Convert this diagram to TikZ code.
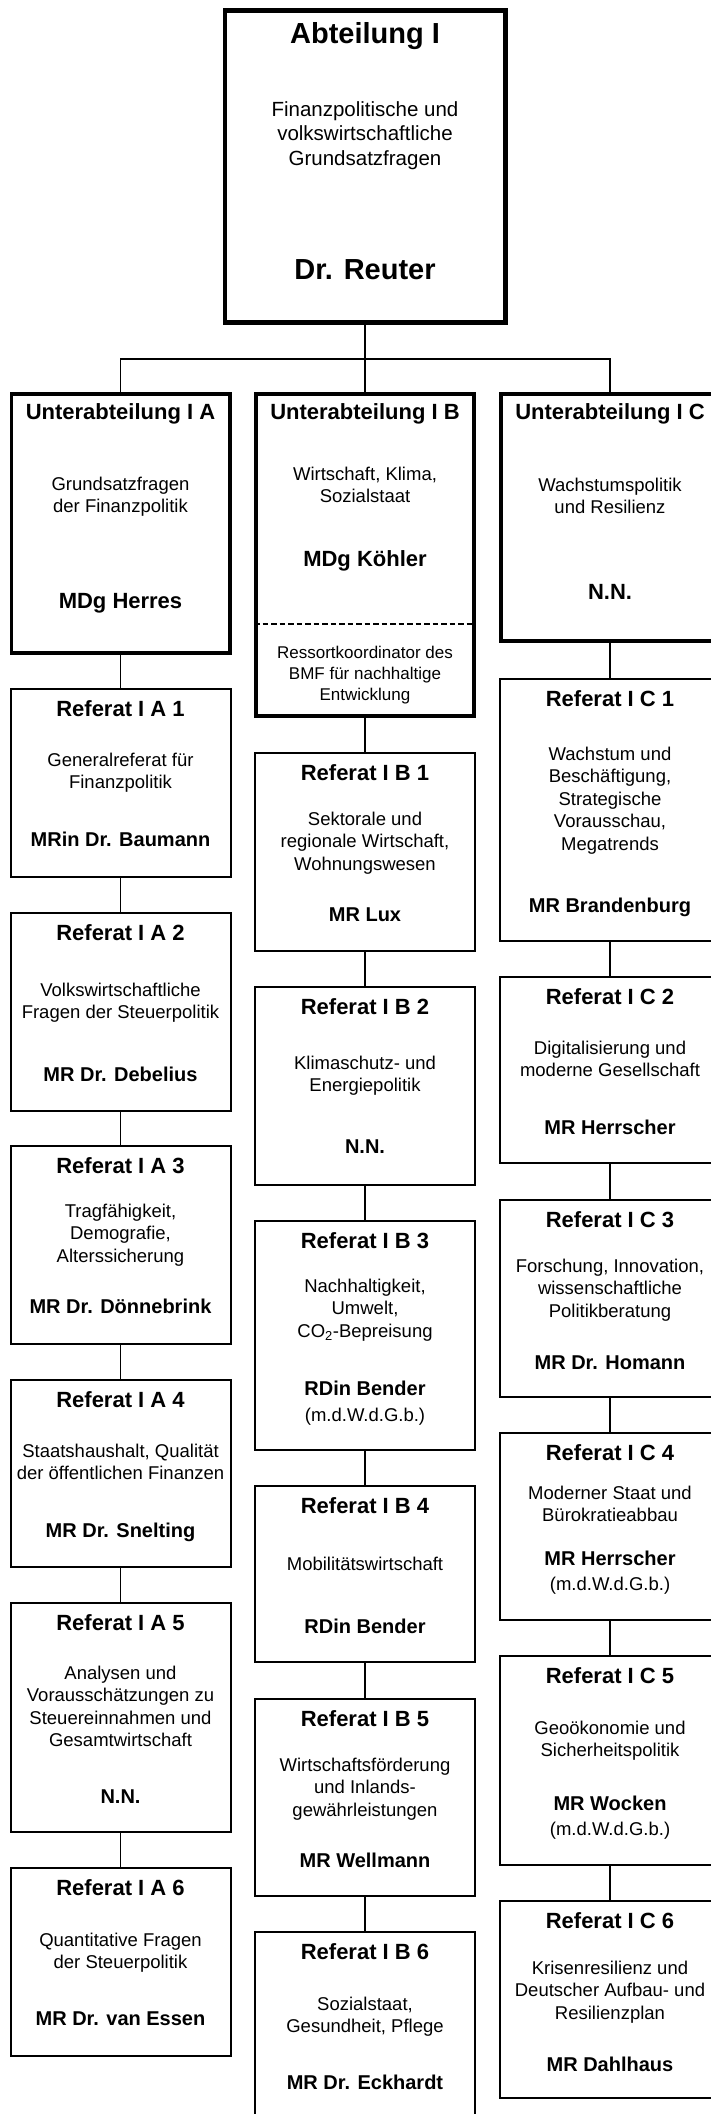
\documentclass[tikz,border=0pt]{standalone}
\usepackage{fontspec}
\setmainfont{Liberation Sans}
\usetikzlibrary{positioning}

\newcommand{\fBig}{\fontsize{29}{34}\selectfont\bfseries}
\newcommand{\fSub}{\fontsize{22}{26}\selectfont\bfseries}
\newcommand{\fName}{\fontsize{20}{24}\selectfont\bfseries}

\tikzset{
  abtbox/.style={draw, line width=4.7pt, minimum width=280.3pt, inner sep=0pt},
  subbox/.style={draw, line width=3.7pt, minimum width=218.3pt, inner sep=0pt},
  refbox/.style={draw, line width=2pt, minimum width=220pt, inner sep=0pt},
  txt/.style={align=center, inner sep=0pt, font=\fontsize{18.5}{22.5}\selectfont},
  abttxt/.style={txt, font=\fontsize{20.5}{24.5}\selectfont},
  restxt/.style={txt, font=\fontsize{17}{21}\selectfont},
  conn/.style={line width=1.5pt},
  divider/.style={line width=2pt, dash pattern=on 5.5pt off 3pt}
}

\begin{document}
\begin{tikzpicture}[x=1pt, y=-1pt]
  \useasboundingbox (0,0) rectangle (711,2114);
  \clip (0,0) rectangle (711,2114);

  %---------------- Abteilung ----------------
  \node[abtbox, minimum height=312.3pt] (abt) at (365,166.5) {};
  \node[abttxt, below=14pt of abt.north] (abt-t)
    {{\fBig Abteilung I}\\[48.5pt]Finanzpolitische und\\volkswirtschaftliche\\Grundsatzfragen\\[90pt]{\fBig Dr. Reuter}};

  %---------------- Unterabteilungen ----------------
  \node[subbox, minimum height=259.3pt] (uaA) at (120.5,523.5) {};
  \node[txt, below=11pt of uaA.north] (uaA-t)
    {{\fSub Unterabteilung I A}\\[48.5pt]Grundsatzfragen\\der Finanzpolitik\\[73.5pt]{\fSub MDg Herres}};

  \node[subbox, minimum height=322.3pt] (uaB) at (365,555) {};
  \node[txt, below=11pt of uaB.north] (uaB-t)
    {{\fSub Unterabteilung I B}\\[38.5pt]Wirtschaft, Klima,\\Sozialstaat\\[41.5pt]{\fSub MDg Köhler}};
  \draw[divider] (uaB.west |- 0,624) -- (uaB.east |- 0,624);
  \node[restxt, below=254pt of uaB.north] (uaB-r)
    {Ressortkoordinator des\\BMF für nachhaltige\\Entwicklung};

  \node[subbox, minimum height=247.3pt] (uaC) at (610,517.5) {};
  \node[txt, below=11pt of uaC.north] (uaC-t)
    {{\fSub Unterabteilung I C}\\[49.5pt]Wachstumspolitik\\und Resilienz\\[63.5pt]{\fSub N.N.}};

  \coordinate (hub) at (365,359);
  \draw[conn] (abt) -- (uaB);
  \draw[conn] (uaA) |- (hub) -| (uaC);

  %---------------- Referate I A ----------------
  \node[refbox, minimum height=188pt] (refA1) at (120.5,783) {};
  \node[txt, below=12pt of refA1.north] (refA1-t)
    {{\fSub Referat I A 1}\\[27.5pt]Generalreferat für\\Finanzpolitik\\[35.5pt]{\fName MRin Dr. Baumann}};

  \node[refbox, minimum height=198pt] (refA2) at (120.5,1012) {};
  \node[txt, below=12pt of refA2.north] (refA2-t)
    {{\fSub Referat I A 2}\\[33.5pt]Volkswirtschaftliche\\Fragen der Steuerpolitik\\[40.5pt]{\fName MR Dr. Debelius}};

  \node[refbox, minimum height=198pt] (refA3) at (120.5,1245) {};
  \node[txt, below=12pt of refA3.north] (refA3-t)
    {{\fSub Referat I A 3}\\[21.5pt]Tragfähigkeit,\\Demografie,\\Alterssicherung\\[28.5pt]{\fName MR Dr. Dönnebrink}};

  \node[refbox, minimum height=187pt] (refA4) at (120.5,1473.5) {};
  \node[txt, below=12pt of refA4.north] (refA4-t)
    {{\fSub Referat I A 4}\\[27.5pt]Staatshaushalt, Qualität\\der öffentlichen Finanzen\\[35.5pt]{\fName MR Dr. Snelting}};

  \node[refbox, minimum height=229pt] (refA5) at (120.5,1717.5) {};
  \node[txt, below=12pt of refA5.north] (refA5-t)
    {{\fSub Referat I A 5}\\[26.5pt]Analysen und\\Vorausschätzungen zu\\Steuereinnahmen und\\Gesamtwirtschaft\\[34.5pt]{\fName N.N.}};

  \node[refbox, minimum height=188pt] (refA6) at (120.5,1962) {};
  \node[txt, below=12pt of refA6.north] (refA6-t)
    {{\fSub Referat I A 6}\\[28.5pt]Quantitative Fragen\\der Steuerpolitik\\[34.5pt]{\fName MR Dr. van Essen}};

  \draw[conn] (uaA) -- (refA1) -- (refA2) -- (refA3) -- (refA4) -- (refA5) -- (refA6);

  %---------------- Referate I B ----------------
  \node[refbox, minimum height=198pt] (refB1) at (365,852) {};
  \node[txt, below=12pt of refB1.north] (refB1-t)
    {{\fSub Referat I B 1}\\[22.5pt]Sektorale und\\regionale Wirtschaft,\\Wohnungswesen\\[28.5pt]{\fName MR Lux}};

  \node[refbox, minimum height=198pt] (refB2) at (365,1086) {};
  \node[txt, below=12pt of refB2.north] (refB2-t)
    {{\fSub Referat I B 2}\\[32.5pt]Klimaschutz- und\\Energiepolitik\\[39.5pt]{\fName N.N.}};

  \node[refbox, minimum height=229pt] (refB3) at (365,1335.5) {};
  \node[txt, below=12pt of refB3.north] (refB3-t)
    {{\fSub Referat I B 3}\\[21.5pt]Nachhaltigkeit,\\Umwelt,\\CO\textsubscript{2}-Bepreisung\\[35.5pt]{\fName RDin Bender}\\[3.5pt](m.d.W.d.G.b.)};

  \node[refbox, minimum height=176pt] (refB4) at (365,1574) {};
  \node[txt, below=12pt of refB4.north] (refB4-t)
    {{\fSub Referat I B 4}\\[34.5pt]Mobilitätswirtschaft\\[40.5pt]{\fName RDin Bender}};

  \node[refbox, minimum height=197pt] (refB5) at (365,1797.5) {};
  \node[txt, below=12pt of refB5.north] (refB5-t)
    {{\fSub Referat I B 5}\\[22.5pt]Wirtschaftsförderung\\und Inlands-\\gewährleistungen\\[28.5pt]{\fName MR Wellmann}};

  \node[refbox, minimum height=227pt] (refB6) at (365,2045.5) {};
  \node[txt, below=12pt of refB6.north] (refB6-t)
    {{\fSub Referat I B 6}\\[28.5pt]Sozialstaat,\\Gesundheit, Pflege\\[34.5pt]{\fName MR Dr. Eckhardt}};

  \draw[conn] (uaB) -- (refB1) -- (refB2) -- (refB3) -- (refB4) -- (refB5) -- (refB6);

  %---------------- Referate I C ----------------
  \node[refbox, minimum height=262pt] (refC1) at (610,810) {};
  \node[txt, below=12pt of refC1.north] (refC1-t)
    {{\fSub Referat I C 1}\\[31.5pt]Wachstum und\\Beschäftigung,\\Strategische\\Vorausschau,\\Megatrends\\[39.5pt]{\fName MR Brandenburg}};

  \node[refbox, minimum height=186pt] (refC2) at (610,1070) {};
  \node[txt, below=12pt of refC2.north] (refC2-t)
    {{\fSub Referat I C 2}\\[27.5pt]Digitalisierung und\\moderne Gesellschaft\\[35.5pt]{\fName MR Herrscher}};

  \node[refbox, minimum height=197pt] (refC3) at (610,1298.5) {};
  \node[txt, below=12pt of refC3.north] (refC3-t)
    {{\fSub Referat I C 3}\\[22.5pt]Forschung, Innovation,\\wissenschaftliche\\Politikberatung\\[29.5pt]{\fName MR Dr. Homann}};

  \node[refbox, minimum height=187pt] (refC4) at (610,1526.5) {};
  \node[txt, below=12pt of refC4.north] (refC4-t)
    {{\fSub Referat I C 4}\\[16.5pt]Moderner Staat und\\Bürokratieabbau\\[21.5pt]{\fName MR Herrscher}\\[2.5pt](m.d.W.d.G.b.)};

  \node[refbox, minimum height=209pt] (refC5) at (610,1760.5) {};
  \node[txt, below=12pt of refC5.north] (refC5-t)
    {{\fSub Referat I C 5}\\[28.5pt]Geoökonomie und\\Sicherheitspolitik\\[31.5pt]{\fName MR Wocken}\\[2.5pt](m.d.W.d.G.b.)};

  \node[refbox, minimum height=197pt] (refC6) at (610,1999.5) {};
  \node[txt, below=12pt of refC6.north] (refC6-t)
    {{\fSub Referat I C 6}\\[23.5pt]Krisenresilienz und\\Deutscher Aufbau- und\\Resilienzplan\\[29.5pt]{\fName MR Dahlhaus}};

  \draw[conn] (uaC) -- (refC1) -- (refC2) -- (refC3) -- (refC4) -- (refC5) -- (refC6);
\end{tikzpicture}
\end{document}
